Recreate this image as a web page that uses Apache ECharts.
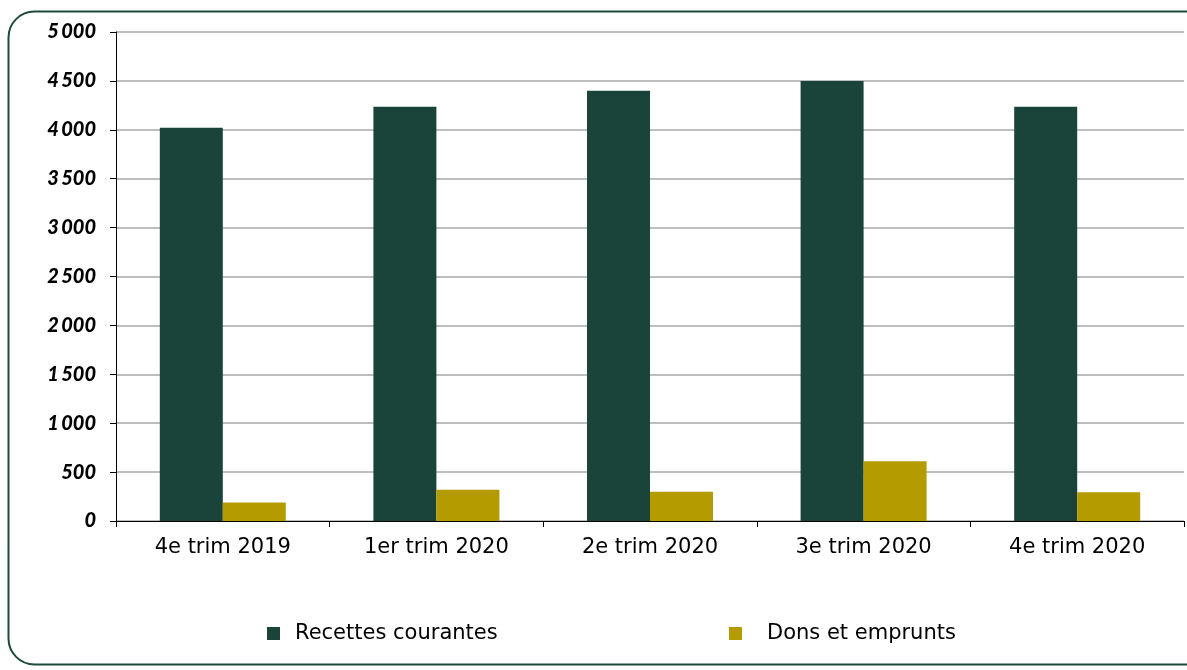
<!DOCTYPE html>
<html>
<head>
<meta charset="utf-8">
<style>
  html, body { margin: 0; padding: 0; background: #ffffff; }
  #chart { width: 1187px; height: 670px; }
</style>
<script src="https://cdn.jsdelivr.net/npm/echarts@6/dist/echarts.min.js"></script>
</head>
<body>
<div id="chart"></div>
<script>
// Quarterly receipts (values in the chart's units)
const categories = ['4e trim 2019', '1er trim 2020', '2e trim 2020', '3e trim 2020', '4e trim 2020'];
const recettesCourantes = [4020, 4235, 4400, 4500, 4235];
const donsEmprunts = [190, 320, 300, 610, 295];
const seriesNames = ['Recettes courantes', 'Dons et emprunts'];

const GREEN = '#1a4439';
const GOLD = '#b49b00';

// "5000" -> "5 000"
function groupThousands(v) {
  return String(v).replace(/\B(?=(\d{3})+(?!\d))/g, '\u2009');
}

const chart = echarts.init(document.getElementById('chart'), null, { renderer: 'canvas' });

chart.setOption({
  animation: false,
  backgroundColor: '#ffffff',
  graphic: [{
    type: 'rect',
    shape: { x: 8.5, y: 11.5, width: 1220, height: 653, r: 26 },
    style: { fill: 'none', stroke: '#1e4a3d', lineWidth: 2 },
    silent: true,
    z: -1
  }],
  grid: { left: 116, right: 3, top: 32, bottom: 149, containLabel: false },
  legend: [{
    data: [seriesNames[0]],
    left: 262, top: 618,
    icon: 'rect', itemWidth: 13, itemHeight: 13,
    textStyle: { fontFamily: 'DejaVu Sans', fontSize: 21, color: '#000', padding: [0, 0, 0, 10] },
    selectedMode: false
  }, {
    data: [seriesNames[1]],
    left: 724, top: 618,
    icon: 'rect', itemWidth: 13, itemHeight: 13,
    textStyle: { fontFamily: 'DejaVu Sans', fontSize: 21, color: '#000', padding: [0, 0, 0, 20] },
    selectedMode: false
  }],
  xAxis: {
    type: 'category',
    data: categories,
    axisLine: { lineStyle: { color: '#000', width: 1 } },
    axisTick: { show: true, length: 6, alignWithLabel: false, lineStyle: { color: '#000' } },
    axisLabel: { fontFamily: 'DejaVu Sans', fontSize: 21, color: '#000', margin: 16 },
    splitLine: { show: false }
  },
  yAxis: {
    type: 'value',
    min: 0, max: 5000, interval: 500,
    axisLine: { show: true, lineStyle: { color: '#000', width: 1 } },
    axisTick: { show: true, length: 6, lineStyle: { color: '#000' } },
    axisLabel: {
      fontFamily: 'Lato', fontWeight: 900, fontStyle: 'italic',
      fontSize: 20, color: '#000', margin: 20,
      formatter: groupThousands
    },
    splitLine: { show: true, lineStyle: { color: '#a8a8a8', width: 1.5 } }
  },
  series: [{
    name: seriesNames[0],
    type: 'bar',
    data: recettesCourantes,
    barWidth: 63,
    barGap: '0%',
    itemStyle: { color: GREEN }
  }, {
    name: seriesNames[1],
    type: 'bar',
    data: donsEmprunts,
    barWidth: 63,
    barGap: '0%',
    itemStyle: { color: GOLD }
  }]
});
</script>
</body>
</html>
